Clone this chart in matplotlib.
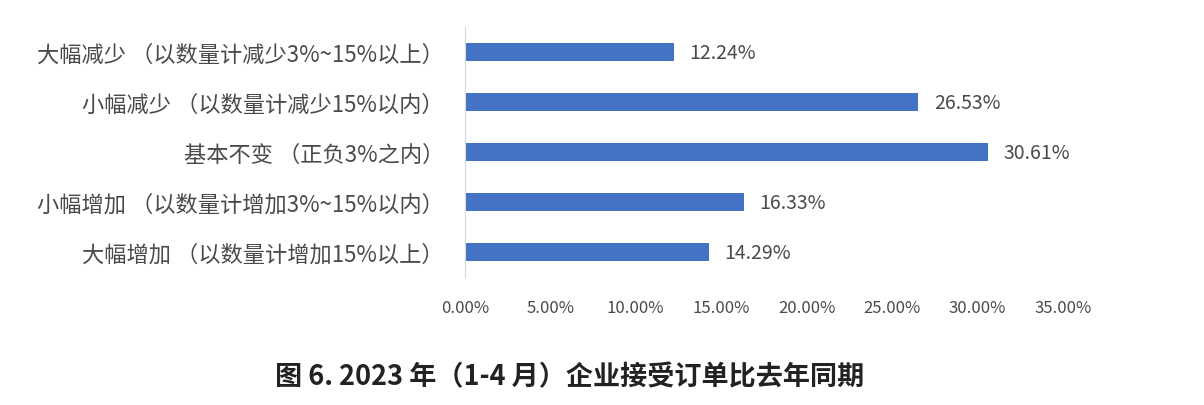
import matplotlib

matplotlib.use("Agg")

import matplotlib.pyplot as plt
from matplotlib.ticker import FuncFormatter

plt.rcParams["font.family"] = ["Noto Sans CJK SC", "DejaVu Sans"]

# categories, top to bottom
categories = [
    "大幅减少 （以数量计减少3%~15%以上）",
    "小幅减少 （以数量计减少15%以内）",
    "基本不变 （正负3%之内）",
    "小幅增加 （以数量计增加3%~15%以内）",
    "大幅增加 （以数量计增加15%以上）",
]
values = [12.24, 26.53, 30.61, 16.33, 14.29]
xticks = [0, 5, 10, 15, 20, 25, 30, 35]
title = "图 6. 2023 年（1-4 月）企业接受订单比去年同期"

bar_color = "#4472C4"
text_color = "#4a4a4a"

fig = plt.figure(figsize=(12.04, 4.06), dpi=100)
ax = fig.add_axes([0.386, 0.315, 0.497, 0.616])

y = list(range(len(categories)))[::-1]
ax.barh(y, values, height=0.36, color=bar_color)
for yi, v in zip(y, values):
    ax.text(v + 0.9, yi, f"{v:.2f}%", va="center", ha="left",
            fontsize=14, color=text_color)

ax.set_xlim(0, 35)
ax.set_ylim(-0.5, len(categories) - 0.5)
ax.set_xticks(xticks)
ax.xaxis.set_major_formatter(FuncFormatter(lambda v, _: f"{v:.2f}%"))
ax.set_yticks(y)
ax.set_yticklabels(categories)
ax.tick_params(axis="x", length=0, pad=16, labelsize=12, labelcolor=text_color)
ax.tick_params(axis="y", length=0, pad=15, labelsize=16, labelcolor=text_color)

for side in ("top", "right", "bottom"):
    ax.spines[side].set_visible(False)
ax.spines["left"].set_color("#d9d9d9")

fig.text(0.473, 0.07, title, ha="center", va="center", fontsize=19.5,
         fontweight="bold", color="#222222")

fig.savefig("out.png", dpi=100)
